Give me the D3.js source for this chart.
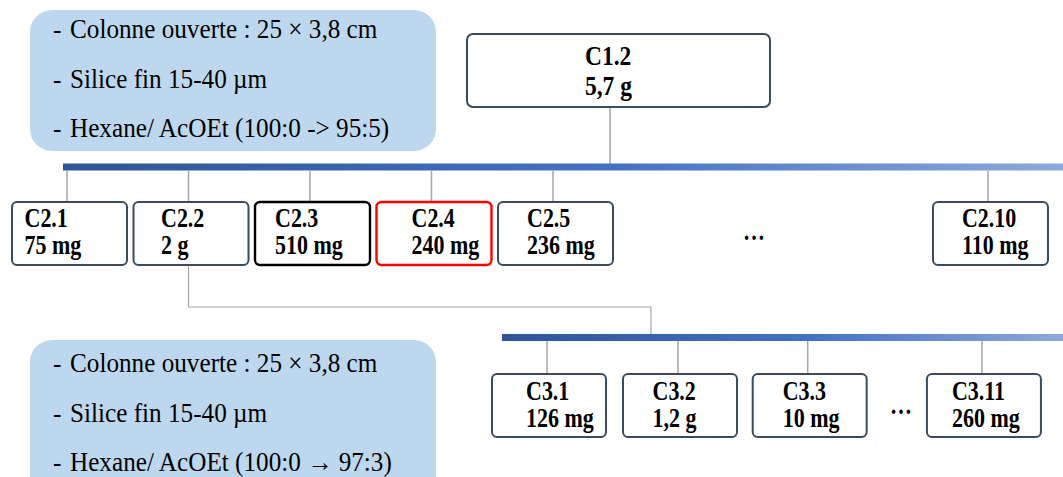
<!DOCTYPE html>
<html><head><meta charset="utf-8">
<script src="https://cdn.jsdelivr.net/npm/d3@7"></script>
<style>
html,body{margin:0;padding:0;background:#fff;overflow:hidden;}
svg{display:block;}
</style></head>
<body>
<svg id="c" width="1063" height="477"></svg>
<script>
// ---- data ----
const parentName = "C1.2";
const parentMass = "5,7 g";
const fractions2 = ["C2.1", "C2.2", "C2.3", "C2.4", "C2.5", "C2.10"];
const masses2 = ["75 mg", "2 g", "510 mg", "240 mg", "236 mg", "110 mg"];
const fractions3 = ["C3.1", "C3.2", "C3.3", "C3.11"];
const masses3 = ["126 mg", "1,2 g", "10 mg", "260 mg"];
const conditions1 = ["Colonne ouverte : 25 × 3,8 cm", "Silice fin 15-40 µm", "Hexane/ AcOEt (100:0 -> 95:5)"];
const conditions2 = ["Colonne ouverte : 25 × 3,8 cm", "Silice fin 15-40 µm", "Hexane/ AcOEt (100:0 \u2192 97:3)"];
const subdivided = "C2.2";

// ---- layout ----
const slots2 = [0, 1, 2, 3, 4, 7.58];
const inset2 = [12.5, 27.5, 20, 35, 29, 29];
const stroke2 = ["#3B4A5E", "#3B4A5E", "#000000", "#FF0000", "#3B4A5E", "#3B4A5E"];
const slots3 = [0, 1, 1.99, 3.32];
const inset3 = [34, 29.5, 30, 25];

const svg = d3.select("#c");
const serif = "'Liberation Serif','Times New Roman',serif";
const x2 = d3.scaleLinear().domain([0, 1]).range([12, 133.5]);
const x3 = d3.scaleLinear().domain([0, 1]).range([492, 623]);

// text helper with slight vertical stretch (as in the reference)
function txt(sel, x, y, s, size, bold, sy) {
  return sel.append("text")
    .attr("transform", `translate(${x},${y}) scale(1,${sy})`)
    .attr("font-family", serif).attr("font-size", size)
    .attr("font-weight", bold ? "bold" : "normal").attr("fill", "#000").text(s);
}

const defs = svg.append("defs");
function grad(id) {
  const g = defs.append("linearGradient").attr("id", id).attr("x1", "0%").attr("x2", "100%");
  g.append("stop").attr("offset", "0%").attr("stop-color", "#2F5597");
  g.append("stop").attr("offset", "55%").attr("stop-color", "#4472C4");
  g.append("stop").attr("offset", "100%").attr("stop-color", "#8EA9DB");
}
grad("g1"); grad("g2");

// info boxes
function infoBox(y, h, lines, base0) {
  svg.append("rect").attr("x", 30).attr("y", y).attr("width", 406).attr("height", h)
    .attr("rx", 22).attr("fill", "#BDD7EE");
  lines.forEach((s, i) => {
    txt(svg, 53, base0 + i * 49.5, "-", 25.2, false, 1.08);
    txt(svg, 70, base0 + i * 49.5, s, 25.2, false, 1.08);
  });
}
infoBox(10, 141, conditions1, 38);
infoBox(340, 160, conditions2, 372);

const lineCol = "#A6A6A6";
// parent connector
svg.append("line").attr("x1", 610).attr("x2", 610).attr("y1", 108).attr("y2", 164)
  .attr("stroke", lineCol).attr("stroke-width", 1.5);
// bars
svg.append("rect").attr("x", 63).attr("y", 163.5).attr("width", 1000).attr("height", 7).attr("fill", "url(#g1)");
svg.append("rect").attr("x", 502).attr("y", 334).attr("width", 561).attr("height", 7).attr("fill", "url(#g2)");

// parent box
svg.append("rect").attr("x", 467).attr("y", 34).attr("width", 303).attr("height", 73).attr("rx", 6)
  .attr("fill", "#fff").attr("stroke", "#3B4A5E").attr("stroke-width", 2);
txt(svg, 585, 65, parentName, 23.5, true, 1.18);
txt(svg, 585, 95, parentMass, 23.5, true, 1.18);

// level 2
const bw2 = 115, bh = 63, top2 = 202;
const row2 = fractions2.map((f, i) => ({ name: f, mass: masses2[i], x: x2(slots2[i]), inset: inset2[i], stroke: stroke2[i] }));
svg.selectAll(".c2").data(row2).enter().append("line")
  .attr("x1", d => d.x + 55).attr("x2", d => d.x + 55).attr("y1", 170.5).attr("y2", top2)
  .attr("stroke", lineCol).attr("stroke-width", 1.5);
const sub = row2.find(d => d.name === subdivided);
svg.append("path")
  .attr("d", `M${sub.x + 55},${top2 + bh} V307 H651 V334`)
  .attr("fill", "none").attr("stroke", lineCol).attr("stroke-width", 1.2);
row2.forEach(d => {
  const g = svg.append("g");
  g.append("rect").attr("x", d.x).attr("y", top2).attr("width", bw2).attr("height", bh).attr("rx", 5)
    .attr("fill", "#fff").attr("stroke", d.stroke).attr("stroke-width", d.stroke === "#3B4A5E" ? 2 : 2.4);
  txt(g, d.x + d.inset, top2 + 25, d.name, 22, true, 1.2);
  txt(g, d.x + d.inset, top2 + 52, d.mass, 22, true, 1.2);
});
txt(svg, 743, 240, "…", 22, true, 1.2);

// level 3
const bw3 = 114, top3 = 374;
const row3 = fractions3.map((f, i) => ({ name: f, mass: masses3[i], x: x3(slots3[i]), inset: inset3[i] }));
svg.selectAll(".c3").data(row3).enter().append("line")
  .attr("x1", d => d.x + 55).attr("x2", d => d.x + 55).attr("y1", 341).attr("y2", top3)
  .attr("stroke", lineCol).attr("stroke-width", 1.5);
row3.forEach(d => {
  const g = svg.append("g");
  g.append("rect").attr("x", d.x).attr("y", top3).attr("width", bw3).attr("height", bh).attr("rx", 5)
    .attr("fill", "#fff").attr("stroke", "#3B4A5E").attr("stroke-width", 2);
  txt(g, d.x + d.inset, top3 + 26, d.name, 22, true, 1.2);
  txt(g, d.x + d.inset, top3 + 53, d.mass, 22, true, 1.2);
});
txt(svg, 890, 414, "…", 22, true, 1.2);
</script>
</body></html>
